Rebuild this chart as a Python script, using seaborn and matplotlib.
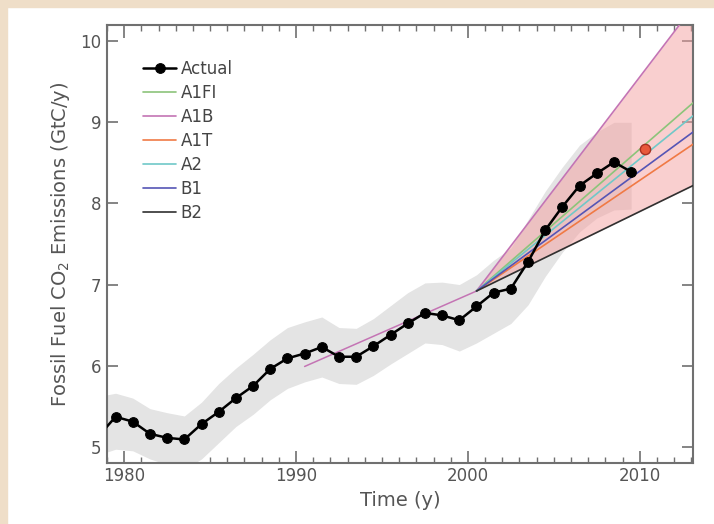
import numpy as np
import pandas as pd
import seaborn as sns
import matplotlib.pyplot as plt
from matplotlib.patches import Rectangle
from matplotlib.ticker import MultipleLocator

# observed emissions (GtC/y), plotted at mid-year
years = np.arange(1978, 2010) + 0.5
actual = [5.13, 5.37, 5.31, 5.16, 5.11, 5.09, 5.28, 5.43, 5.60, 5.75,
          5.96, 6.09, 6.15, 6.23, 6.11, 6.11, 6.24, 6.38, 6.52, 6.65,
          6.62, 6.56, 6.73, 6.90, 6.95, 7.28, 7.67, 7.96, 8.22, 8.37,
          8.51, 8.39]

# grey uncertainty envelope around the observations
band_hi = [5.62, 5.66, 5.60, 5.47, 5.42, 5.38, 5.55, 5.78, 5.97, 6.14,
           6.32, 6.47, 6.54, 6.60, 6.47, 6.46, 6.58, 6.74, 6.90, 7.02,
           7.03, 7.00, 7.12, 7.30, 7.45, 7.80, 8.15, 8.45, 8.72, 8.88,
           9.00, 9.00]
band_lo = [4.90, 4.97, 4.95, 4.85, 4.78, 4.72, 4.85, 5.05, 5.25, 5.40,
           5.58, 5.72, 5.80, 5.86, 5.78, 5.77, 5.88, 6.02, 6.15, 6.28,
           6.26, 6.18, 6.28, 6.40, 6.52, 6.75, 7.10, 7.40, 7.65, 7.82,
           7.92, 7.93]

# estimate for 2010
point_year = 2010.3
point_val = 8.67

# SRES scenarios: start and end of each projection
scen_years = [2000.5, 2013.1]
scen_names = ["A1FI", "A1B", "A1T", "A2", "B1", "B2"]
scen_start = [6.92, 6.92, 6.92, 6.92, 6.92, 6.92]
scen_end = [9.24, 10.42, 8.73, 9.08, 8.88, 8.22]
scen_colors = ["#8cc47a", "#c474b4", "#f07a45", "#70c8c8", "#5555b5", "#303030"]

# A1B history before 2000
hist_years = [1990.5, 2000.5]
hist_vals = [5.99, 6.92]

sns.set_style("ticks")
plt.rcParams["font.family"] = ["DejaVu Sans"]
text_c = "#555555"

fig = plt.figure(figsize=(7.14, 5.24), dpi=100)
fig.patches.append(Rectangle((0, 0), 7 / 714, 1, transform=fig.transFigure,
                             color="#efdec8", zorder=0))
fig.patches.append(Rectangle((0, 1 - 7 / 524), 1, 7 / 524, transform=fig.transFigure,
                             color="#efdec8", zorder=0))
ax = fig.add_axes([107 / 714, 1 - 463 / 524, 586 / 714, 438 / 524])

ax.fill_between(years, band_lo, band_hi, color="#e4e4e4", lw=0, zorder=1)

i_a1b = scen_names.index("A1B")
i_b2 = scen_names.index("B2")
ax.fill_between(scen_years, [scen_start[i_b2], scen_end[i_b2]],
                [scen_start[i_a1b], scen_end[i_a1b]],
                color="#f4a0a0", alpha=0.5, lw=0, zorder=2)

sns.lineplot(x=hist_years, y=hist_vals, color=scen_colors[i_a1b], lw=1.1, ax=ax, zorder=3)

handles = []
for name, s, e, c in zip(scen_names, scen_start, scen_end, scen_colors):
    sns.lineplot(x=scen_years, y=[s, e], color=c, lw=1.2, ax=ax, zorder=3)
    handles.append(ax.lines[-1])

sns.lineplot(x=years, y=actual, color="black", lw=1.8, marker="o", markersize=7,
             markeredgecolor="black", ax=ax, zorder=5)
h_act = ax.lines[-1]

ax.scatter([point_year], [point_val], s=55, color="#e8583a", edgecolor="#a83020",
           lw=1, zorder=6)

leg = ax.legend([h_act] + handles, ["Actual"] + scen_names, loc="upper left",
                bbox_to_anchor=(0.05, 0.935), frameon=False, fontsize=12,
                handlelength=2.0, handletextpad=0.25, labelspacing=0.36,
                borderaxespad=0)
for t in leg.get_texts():
    t.set_color("#444444")

ax.set_xlim(1979, 2013.1)
ax.set_ylim(4.8, 10.2)
ax.xaxis.set_major_locator(MultipleLocator(10))
ax.xaxis.set_minor_locator(MultipleLocator(1))
ax.yaxis.set_major_locator(MultipleLocator(1))
ax.tick_params(axis="x", which="major", direction="in", length=9, width=1.2,
               top=True, colors="#707070", labelcolor=text_c, labelsize=12, pad=3)
ax.tick_params(axis="x", which="minor", direction="in", length=4, width=1,
               top=True, colors="#707070")
ax.tick_params(axis="y", which="major", direction="in", length=8, width=1.2,
               right=True, colors="#707070", labelcolor=text_c, labelsize=12, pad=4)
for sp in ax.spines.values():
    sp.set_color("#707070")
    sp.set_linewidth(1.5)

ax.set_xlabel("Time (y)", fontsize=14, color=text_c, labelpad=4)
ax.set_ylabel("Fossil Fuel CO$_2$ Emissions (GtC/y)", fontsize=14, color=text_c,
              labelpad=6)

fig.savefig("out.png", dpi=100)
